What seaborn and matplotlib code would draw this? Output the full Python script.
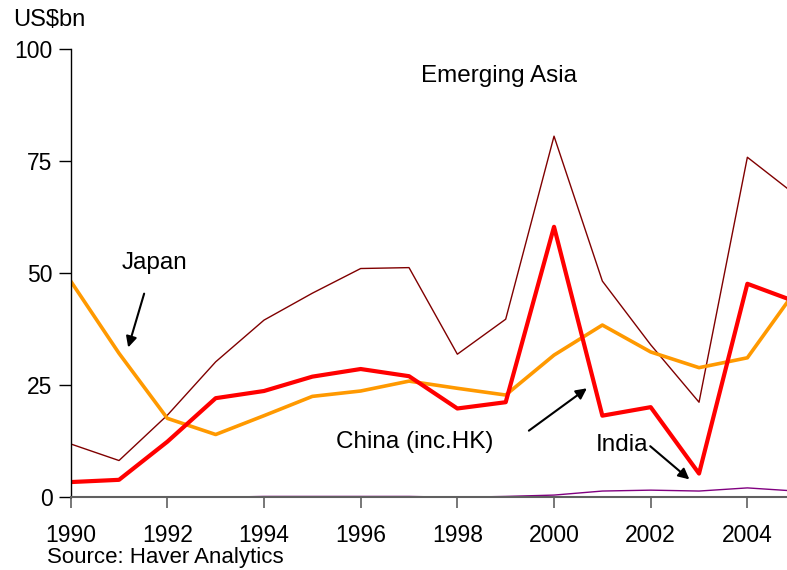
import matplotlib
matplotlib.use("Agg")
import matplotlib.pyplot as plt
import seaborn as sns
import numpy as np
import pandas as pd

years = list(range(1990, 2006))
emerging_asia = [11.9, 8.2, 18.3, 30.2, 39.5, 45.5, 51.0, 51.2, 31.9, 39.7, 80.5, 48.2, 34.0, 21.2, 75.8, 67.4]
china = [3.4, 3.9, 12.4, 22.1, 23.7, 26.9, 28.6, 27.0, 19.8, 21.2, 60.3, 18.2, 20.1, 5.3, 47.6, 43.6]
japan = [48.2, 32.1, 17.6, 14.0, 18.2, 22.5, 23.7, 25.9, 24.3, 22.8, 31.7, 38.4, 32.4, 28.9, 31.1, 46.1]
india = [np.nan, np.nan, np.nan, 0.0, 0.2, 0.2, 0.2, 0.2, 0.0, 0.2, 0.5, 1.4, 1.6, 1.4, 2.1, 1.4]

y_ticks = [0, 25, 50, 75, 100]
x_ticks = [1990, 1992, 1994, 1996, 1998, 2000, 2002, 2004]

df = pd.DataFrame({"year": years, "Emerging Asia": emerging_asia, "China": china,
                   "Japan": japan, "India": india})

sns.set_style("white")
plt.rcParams['font.family'] = ['Liberation Sans', 'DejaVu Sans']
plt.rcParams['text.color'] = 'black'
plt.rcParams['xtick.color'] = 'black'
plt.rcParams['ytick.color'] = 'black'

fig = plt.figure(figsize=(7.87, 5.70), dpi=100)
ax = fig.add_axes([0.0898, 0.1275, 0.9102, 0.7871])

sns.lineplot(data=df, x="year", y="India", ax=ax, color="#800080", lw=1.0)
sns.lineplot(data=df, x="year", y="Emerging Asia", ax=ax, color="#800000", lw=1.0)
sns.lineplot(data=df, x="year", y="Japan", ax=ax, color="#FF9900", lw=2.6)
sns.lineplot(data=df, x="year", y="China", ax=ax, color="#FF0000", lw=3.0)

ax.set_xlim(1990, 2004.82)
ax.set_ylim(0, 100)
ax.set_xticks(x_ticks)
ax.set_yticks(y_ticks)
ax.set_xlabel("")
ax.set_ylabel("")
for s in ["top", "right"]:
    ax.spines[s].set_visible(False)
ax.spines["left"].set_color("black")
ax.spines["left"].set_linewidth(1.0)
ax.spines["bottom"].set_color("#606060")
ax.spines["bottom"].set_linewidth(1.5)
ax.tick_params(axis="y", direction="out", length=9, width=1.0, color="black",
               labelsize=16.5, labelcolor="black", pad=4, left=True)
ax.tick_params(axis="x", direction="out", length=8, width=1.2, color="#606060",
               labelsize=16.5, labelcolor="black", pad=11, bottom=True)
for sp in ax.spines.values():
    sp.set_zorder(5)

ax.text(1998.86, 93.9, "Emerging Asia", fontsize=17.5, ha="center", va="center", color="black")
ax.text(1991.74, 52.2, "Japan", fontsize=17.5, ha="center", va="center", color="black")
ax.text(1997.12, 12.3, "China (inc.HK)", fontsize=17.5, ha="center", va="center", color="black")
ax.text(2001.4, 11.65, "India", fontsize=17.5, ha="center", va="center", color="black")

arrow = dict(arrowstyle="-|>", color="black", lw=1.5, mutation_scale=16, shrinkA=0, shrinkB=0)
ax.annotate("", xy=(1991.19, 33.4), xytext=(1991.52, 45.4), arrowprops=arrow)
ax.annotate("", xy=(2000.68, 24.3), xytext=(1999.48, 14.86), arrowprops=arrow)
ax.annotate("", xy=(2002.80, 4.0), xytext=(2001.99, 11.4), arrowprops=arrow)

fig.text(13 / 787, 1 - 20 / 570, "US$bn", fontsize=17, ha="left", va="center", color="black")
fig.text(47 / 787, 1 - 557 / 570, "Source: Haver Analytics", fontsize=16, ha="left", va="center", color="black")

fig.savefig("out.png", dpi=100)
